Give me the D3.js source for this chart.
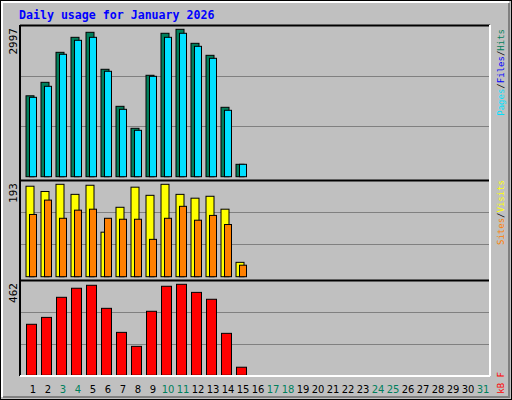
<!DOCTYPE html>
<html><head><meta charset="utf-8">
<script src="https://cdn.jsdelivr.net/npm/d3@7"></script>
<style>body{margin:0;background:#fff}</style></head>
<body><svg id="c" width="512" height="400"></svg>
<script>
const days = d3.range(1, 32);
const weekend = [3,4,10,11,17,18,24,25,31];
const hits   = [1645,1919,2529,2834,2936,2184,1431,984,2062,2916,2997,2712,2468,1411,252];
const files  = [1614,1838,2489,2773,2834,2143,1370,943,2041,2834,2916,2651,2407,1350,252];
const visits = [189,178,193,172,191,93,145,187,170,193,172,164,168,141,30];
const sites  = [130,160,122,139,141,122,120,120,78,122,147,118,128,109,24];
const kbytes = [259,294,396,442,457,340,218,147,325,452,462,421,386,213,41];
const maxLabels = ["2997","193","462"];

const svg = d3.select("#c");
const mono = "'DejaVu Sans Mono', monospace";
svg.append("rect").attr("x",0.5).attr("y",0.5).attr("width",511).attr("height",399).attr("fill","#c0c0c0").attr("stroke","#000");
svg.append("path").attr("d","M2,397V2H509").attr("stroke","#fff").attr("stroke-width",2).attr("fill","none");
svg.append("path").attr("d","M3,397H509V3").attr("stroke","#808080").attr("stroke-width",2).attr("fill","none");

svg.append("text").attr("x",19).attr("y",19).attr("fill","#0000ff").attr("font-family",mono)
  .attr("font-weight","bold").attr("font-size","11.6px").text("Daily usage for January 2026");

const x = d3.scaleLinear().domain([1,2]).range([25,40]);
const L = 20, R = 490;
const panels = [
  {top:25, base:176.7, vmax:2997, h:147.4, s:[[hits,"#00805c",0.5,8],[files,"#00e0ff",4,7]]},
  {top:180, base:276.7, vmax:193, h:92.4, s:[[visits,"#ffff00",0.5,8],[sites,"#ff8000",4,7]]},
  {top:280, base:375.3, vmax:462, h:91, s:[[kbytes,"#ff0000",1,10]]}
];
panels.forEach((p,i)=>{
  const y = d3.scaleLinear().domain([0,p.vmax]).range([p.base,p.base-p.h]);
  const ph = p.base - p.top;
  [1,2].forEach(k=>{
    const gy = Math.round(p.top + ph*k/3)+0.5;
    svg.append("line").attr("x1",L).attr("x2",R).attr("y1",gy).attr("y2",gy).attr("stroke","#808080");
  });
  p.s.forEach(([vals,col,off,w])=>{
    svg.append("g").selectAll("rect").data(vals).join("rect")
      .attr("x",(d,j)=>x(j+1)+off+0.5).attr("width",w)
      .attr("y",d=>y(d)).attr("height",d=>p.base-y(d))
      .attr("fill",col).attr("stroke","#000");
  });
  svg.append("text").attr("transform",`translate(17,${p.top+3}) rotate(-90)`)
    .attr("text-anchor","end").attr("font-family",mono).attr("font-size","11px").text(maxLabels[i]);
  svg.append("line").attr("x1",L).attr("x2",R).attr("y1",p.top+0.5).attr("y2",p.top+0.5).attr("stroke","#000").attr("stroke-width",2);
});
svg.append("line").attr("x1",L).attr("x2",L).attr("y1",25).attr("y2",376).attr("stroke","#000").attr("stroke-width",2);
svg.append("line").attr("x1",R).attr("x2",R).attr("y1",25).attr("y2",376).attr("stroke","#fff").attr("stroke-width",2);
svg.append("line").attr("x1",L).attr("x2",R).attr("y1",376).attr("y2",376).attr("stroke","#fff").attr("stroke-width",2);

svg.append("g").selectAll("text").data(days).join("text")
  .attr("x",d=>x(d)+8).attr("y",393).attr("text-anchor","middle")
  .attr("font-family","'DejaVu Sans', sans-serif").attr("font-size","10px")
  .attr("fill",d=>weekend.includes(d)?"#00805c":"#000").text(d=>d);

function legend(y0, parts){
  const t = svg.append("text").attr("transform",`translate(504,${y0}) rotate(-90)`)
    .attr("text-anchor","end").attr("font-family",mono).attr("font-size","9px");
  parts.forEach(([s,c])=>t.append("tspan").attr("fill",c).text(s));
}
legend(29,[["Pages","#00e0ff"],["/","#000"],["Files","#0000ff"],["/","#000"],["Hits","#00805c"]]);
legend(180,[["Sites","#ff8000"],["/","#000"],["Visits","#ffff00"]]);
legend(372,[["kB F","#ff0000"]]);
</script></body></html>
